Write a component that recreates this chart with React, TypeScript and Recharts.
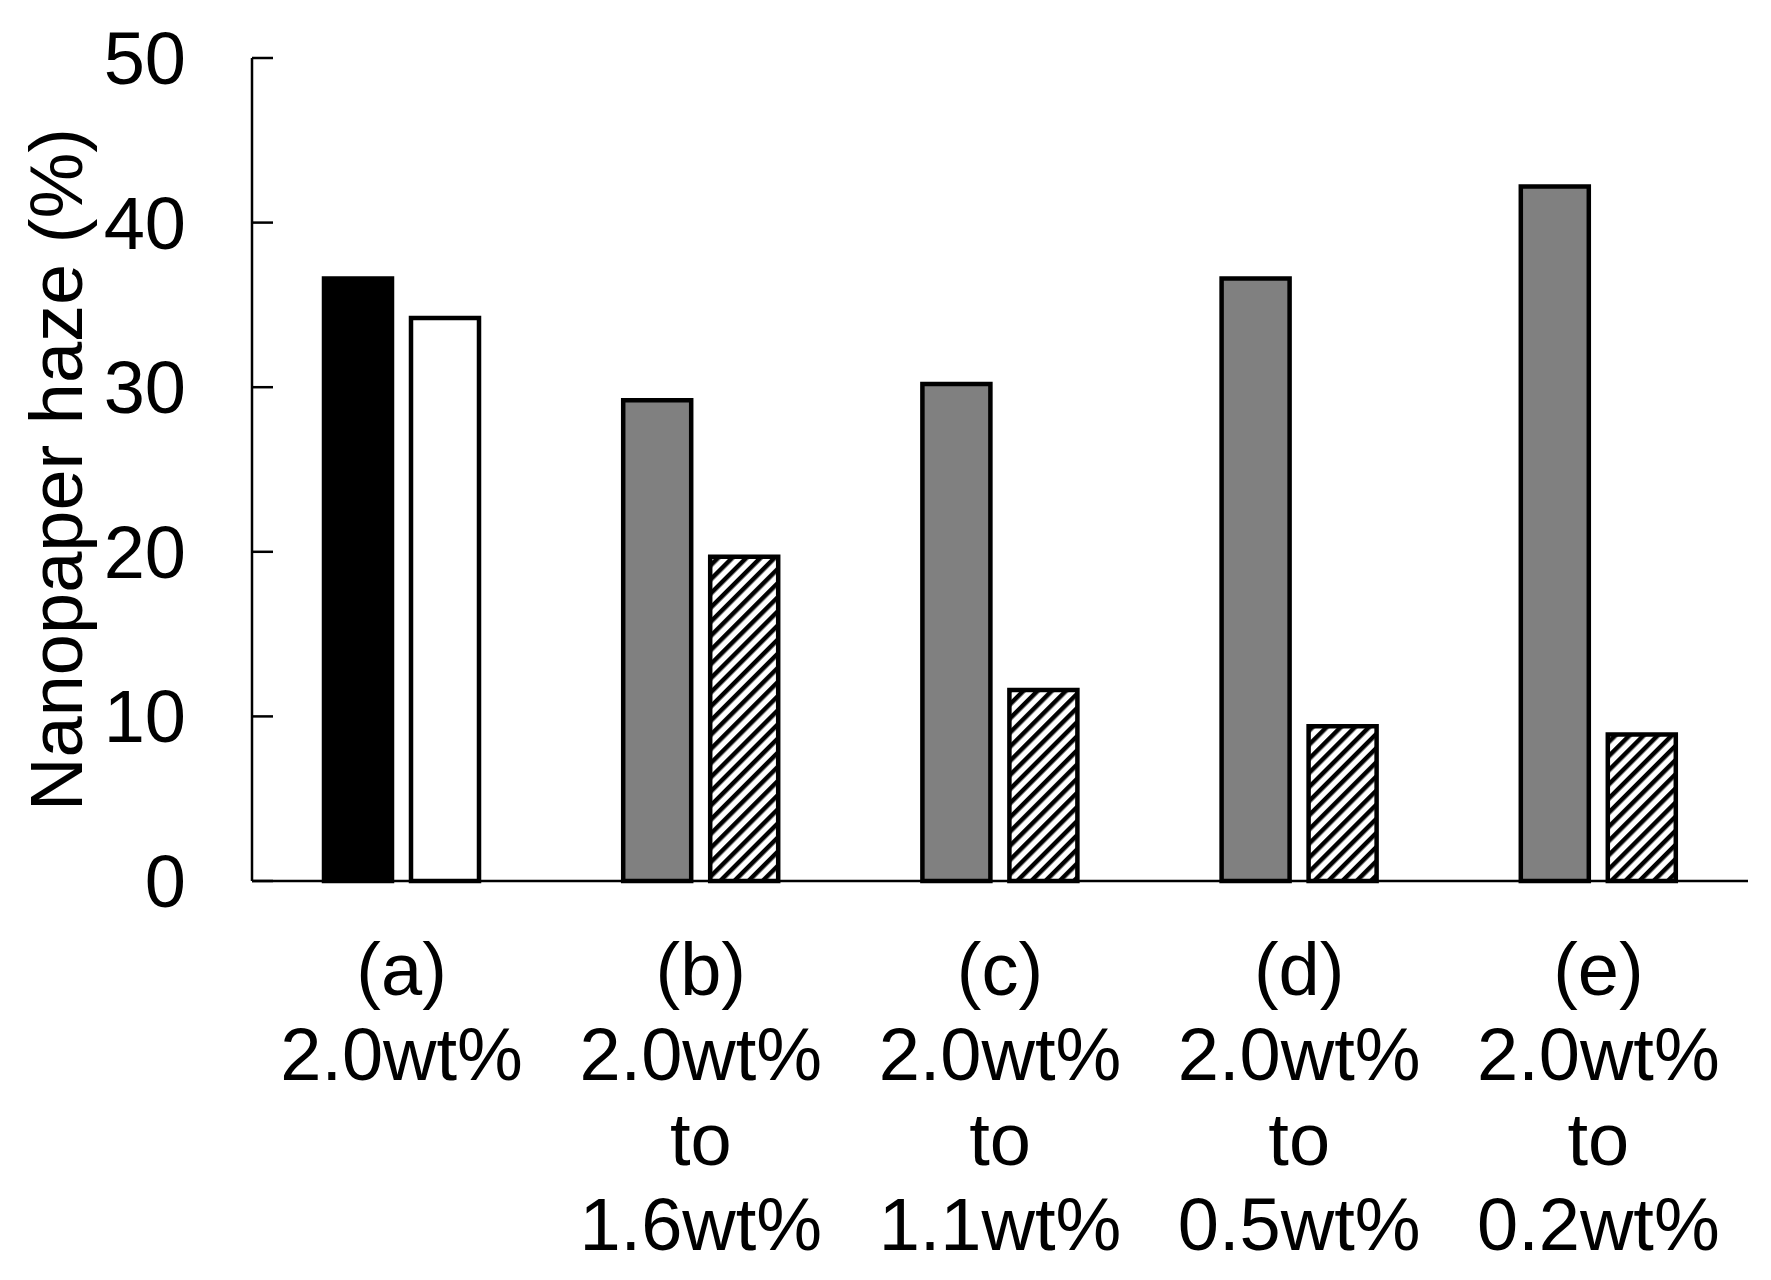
import { Bar, BarChart, Cell, XAxis, YAxis } from "recharts";

const groups = ["(a)", "(b)", "(c)", "(d)", "(e)"];
const groupLines = [
  ["2.0wt%"],
  ["2.0wt%", "to", "1.6wt%"],
  ["2.0wt%", "to", "1.1wt%"],
  ["2.0wt%", "to", "0.5wt%"],
  ["2.0wt%", "to", "0.2wt%"],
];
// first bar of each group: (a) black, the rest gray
const firstHaze = [36.6, 29.2, 30.2, 36.6, 42.2];
// second bar: (a) white, the rest hatched
const secondHaze = [34.2, 19.7, 11.6, 9.4, 8.9];
const yTicks = [0, 10, 20, 30, 40, 50];

const firstFills = ["#000000", "#808080", "#808080", "#808080", "#808080"];
const secondFills = ["#ffffff", "url(#hatch)", "url(#hatch)", "url(#hatch)", "url(#hatch)"];

const data = groups.map((g, i) => ({
    name: g,
    first: firstHaze[i],
    second: secondHaze[i],
}));

const font = "'Liberation Sans', Arial, sans-serif";

function YTick(props: any) {
    const { x, y, payload } = props;
    return (
        <g>
            <line x1={x + 66} x2={x + 87} y1={y} y2={y} stroke="#000" strokeWidth={2.5} />
            <text x={x} y={y} dy={26} textAnchor="end" fontSize={74} fontFamily={font} fill="#000">
                {payload.value}
            </text>
        </g>
    );
}

function XTick(props: any) {
    const { x, y, index } = props;
    const lines = [groups[index], ...groupLines[index]];
    return (
        <text x={x} y={y} textAnchor="middle" fontSize={74} fontFamily={font} fill="#000">
            {lines.map((l, i) => (
                <tspan key={i} x={x} dy={i === 0 ? 114 : 85}>
                    {l}
                </tspan>
            ))}
        </text>
    );
}

function YLabel(props: any) {
    const { viewBox } = props;
    const cx = 82;
    const cy = viewBox.y + viewBox.height / 2;
    return (
        <text
            x={cx}
            y={cy}
            transform={`rotate(-90, ${cx}, ${cy})`}
            textAnchor="middle"
            fontSize={74}
            fontFamily={font}
            fill="#000"
        >
            Nanopaper haze (%)
        </text>
    );
}

export default function App() {
    return (
        <div style={{ position: "absolute", left: 0, top: 0, width: 1771, height: 1280, background: "#fff" }}>
            <BarChart
                width={1771}
                height={1280}
                data={data}
                margin={{ top: 58, right: 23, left: 0, bottom: 0 }}
                barSize={68}
                barGap={19}
            >
                <defs>
                    <pattern id="hatch" patternUnits="userSpaceOnUse" width="10" height="10" patternTransform="rotate(45)">
                        <rect width="10" height="10" fill="#fff" />
                        <rect x="0" y="0" width="4.5" height="10" fill="#000" />
                    </pattern>
                </defs>
                <XAxis
                    dataKey="name"
                    height={399}
                    tickLine={false}
                    tickSize={0}
                    tickMargin={0}
                    interval={0}
                    axisLine={{ stroke: "#000", strokeWidth: 2.5 }}
                    tick={<XTick />}
                />
                <YAxis
                    width={252}
                    domain={[0, 50]}
                    ticks={yTicks}
                    tickLine={false}
                    tickSize={0}
                    tickMargin={66}
                    axisLine={{ stroke: "#000", strokeWidth: 2.5 }}
                    tick={<YTick />}
                    label={<YLabel />}
                />
                <Bar dataKey="first" stroke="#000" strokeWidth={4.5} isAnimationActive={false}>
                    {data.map((_, i) => (
                        <Cell key={i} fill={firstFills[i]} />
                    ))}
                </Bar>
                <Bar dataKey="second" stroke="#000" strokeWidth={4.5} isAnimationActive={false}>
                    {data.map((_, i) => (
                        <Cell key={i} fill={secondFills[i]} />
                    ))}
                </Bar>
            </BarChart>
        </div>
    );
}
